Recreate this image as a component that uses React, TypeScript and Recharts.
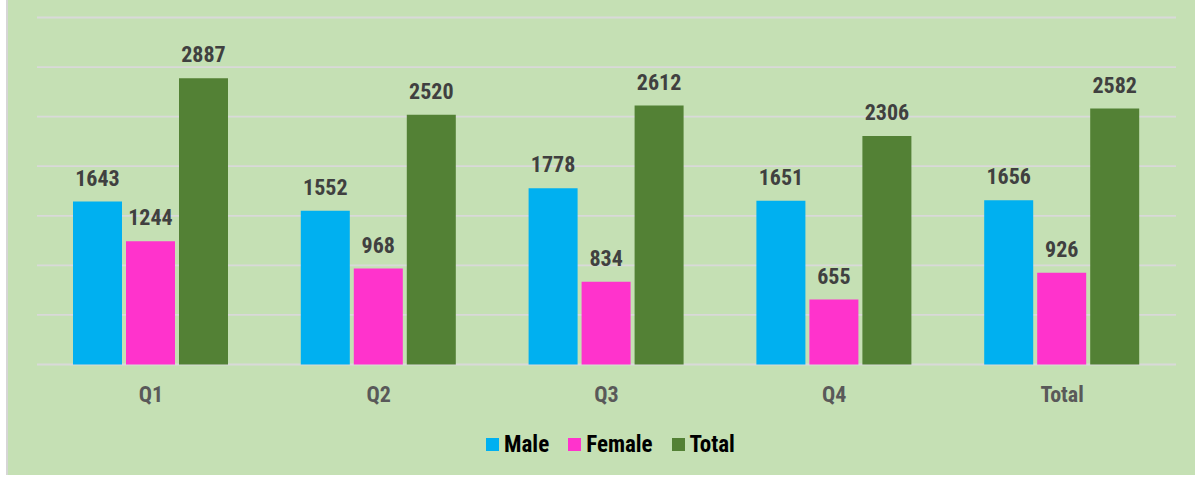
import { BarChart, Bar, XAxis, YAxis, CartesianGrid, Legend, LabelList } from 'recharts';

const categories = ['Q1', 'Q2', 'Q3', 'Q4', 'Total'];
const male = [1643, 1552, 1778, 1651, 1656];
const female = [1244, 968, 834, 655, 926];
const total = [2887, 2520, 2612, 2306, 2582];
const yTicks = [0, 500, 1000, 1500, 2000, 2500, 3000, 3500];

const series = [
  { key: 'male', name: 'Male', color: '#00b0f0' },
  { key: 'female', name: 'Female', color: '#ff33cc' },
  { key: 'total', name: 'Total', color: '#538135' },
];

const data = categories.map((c, i) => ({
  name: c,
  male: male[i],
  female: female[i],
  total: total[i],
}));

const narrow = '"Liberation Sans Narrow", "Arial Narrow", "Roboto Condensed", "Liberation Sans", Arial, sans-serif';

const renderLegend = () => (
  <div style={{ display: 'flex', justifyContent: 'center', alignItems: 'center', fontFamily: narrow }}>
    {series.map((s, i) => (
      <div key={s.key} style={{ display: 'flex', alignItems: 'center', marginRight: i < series.length - 1 ? 19 : 0 }}>
        <span style={{ width: 13, height: 13, background: s.color, display: 'inline-block', marginRight: 5 }} />
        <span style={{ fontSize: 23, fontWeight: 700, color: '#000' }}>{s.name}</span>
      </div>
    ))}
  </div>
);

export default function App() {
  return (
    <div style={{ position: 'absolute', left: 0, top: 0, width: 1195, height: 477, background: '#fff' }}>
      <div
        style={{
          position: 'absolute',
          left: 6,
          top: 0,
          width: 1189,
          height: 475,
          background: '#c5e0b4',
          borderLeft: '2px solid #d6d6d6',
          boxSizing: 'border-box',
        }}
      />
      <div style={{ position: 'absolute', left: 0, top: 0 }}>
        <BarChart
          width={1195}
          height={477}
          data={data}
          margin={{ top: 17.5, right: 19, left: 37, bottom: 64 }}
          barSize={49}
          barGap={4}
        >
          <CartesianGrid vertical={false} horizontalValues={yTicks} stroke="#d9d9d9" strokeWidth={1.8} />
          <XAxis
            dataKey="name"
            axisLine={false}
            tickLine={false}
            tickSize={0}
            tickMargin={22}
            height={48.5}
            tick={{ fill: '#595959', fontSize: 22, fontWeight: 700, fontFamily: narrow }}
          />
          <YAxis hide domain={[0, 3500]} ticks={yTicks} />
          <Legend
            verticalAlign="middle"
            align="center"
            layout="horizontal"
            content={renderLegend}
            wrapperStyle={{ top: 431, left: 0, width: 1221 }}
          />
          {series.map(s => (
            <Bar key={s.key} dataKey={s.key} name={s.name} fill={s.color} isAnimationActive={false}>
              <LabelList
                dataKey={s.key}
                position="top"
                offset={16}
                fill="#404040"
                fontSize={22}
                fontWeight={700}
                fontFamily={narrow}
              />
            </Bar>
          ))}
        </BarChart>
      </div>
    </div>
  );
}
